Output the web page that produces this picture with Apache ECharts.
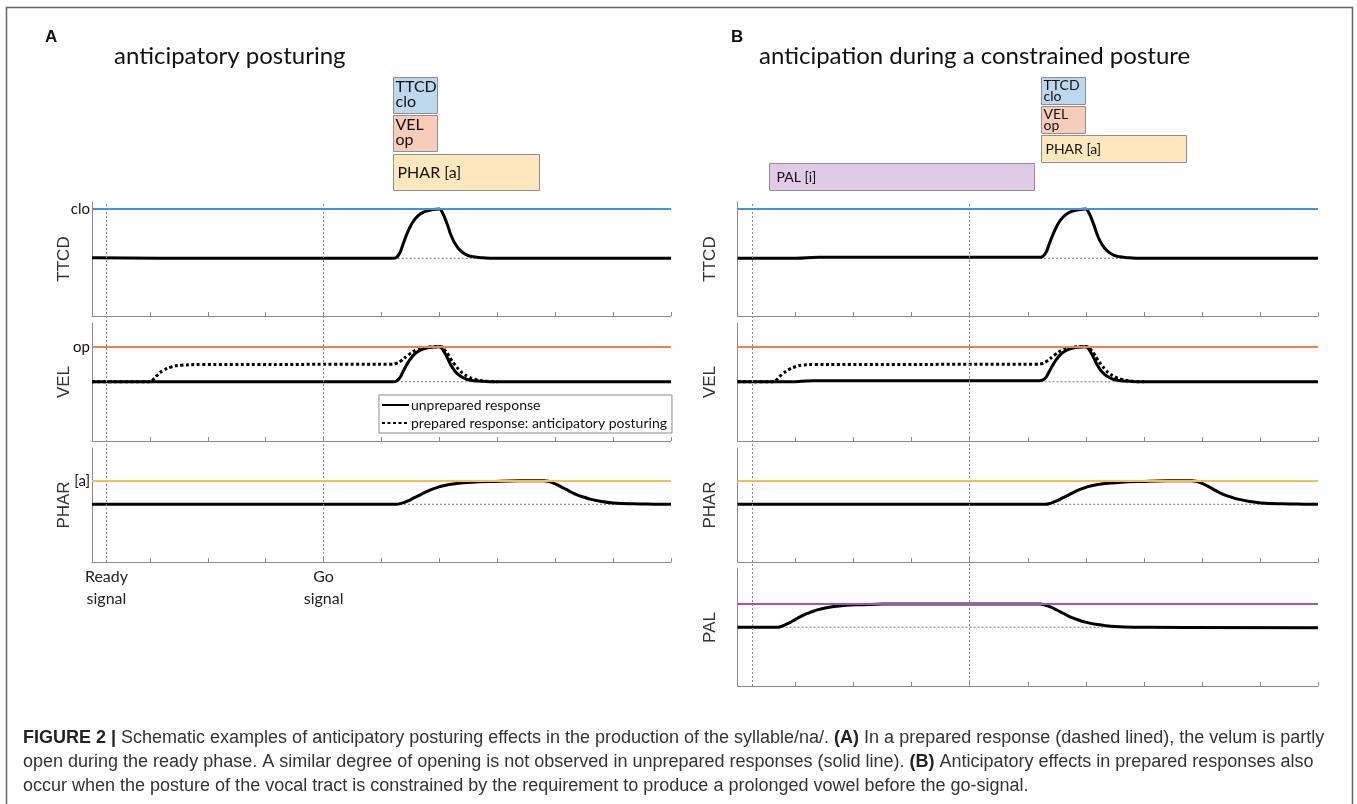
<!DOCTYPE html>
<html>
<head>
<meta charset="utf-8">
<script src="https://cdn.jsdelivr.net/npm/echarts@6/dist/echarts.min.js"></script>
<style>html,body{margin:0;padding:0;background:#fff}#c{width:1357px;height:804px}</style>
</head>
<body>
<div id="c"></div>
<script>
// ---------------- DATA ----------------
const signalX = [0.25, 4.0];
const signalLabels = ['Ready\nsignal', 'Go\nsignal'];
const targetTags = { TTCD: 'clo', VEL: 'op', PHAR: '[a]', PAL: '[i]' };
const legendNames = ['unprepared response', 'prepared response: anticipatory posturing'];

// gestural activation boxes (start/end in time units, label)
const boxLabelsA = ['TTCD\nclo', 'VEL\nop', 'PHAR [a]'];
const boxStartA  = [5.2, 5.2, 5.2];
const boxEndA    = [5.96, 5.96, 7.72];
const boxLabelsB = ['TTCD\nclo', 'VEL\nop', 'PHAR [a]', 'PAL [i]'];
const boxStartB  = [5.23, 5.23, 5.23, 0.55];
const boxEndB    = [5.99, 5.99, 7.73, 5.12];

// rest-position reference segments [start, end]
const refA = { TTCD: [5.21, 6.62], VEL: [5.2, 6.62], PHAR: [5.25, 9.3] };
const refB = { TTCD: [5.21, 6.62], VEL: [5.22, 6.62], PHAR: [5.3, 9.4], PAL: [0.69, 6.3] };

// trajectories [time, normalized position] (0 = rest, 1 = target)
const ttcdA = [[0,0.01],[1.5,0],[5.2,0],[5.26,0.02],[5.32,0.12],[5.37,0.28],[5.43,0.47],[5.5,0.65],[5.58,0.8],[5.67,0.9],[5.78,0.96],[5.9,0.99],[6.0,1.0],[6.05,0.93],[6.1,0.8],[6.15,0.64],[6.2,0.47],[6.27,0.3],[6.36,0.16],[6.47,0.07],[6.59,0.03],[6.76,0.01],[6.95,0],[10,0]];
const velSolidA = [[0,0],[5.2,0],[5.26,0.02],[5.32,0.12],[5.37,0.28],[5.43,0.47],[5.5,0.65],[5.58,0.8],[5.67,0.9],[5.78,0.96],[5.9,0.99],[6.0,1.0],[6.05,0.93],[6.1,0.8],[6.15,0.64],[6.2,0.47],[6.27,0.3],[6.36,0.16],[6.47,0.07],[6.59,0.03],[6.76,0.01],[6.95,0],[10,0]];
const velPrepA = [[0,0],[1.0,0],[1.07,0.08],[1.13,0.19],[1.23,0.32],[1.37,0.42],[1.55,0.47],[1.9,0.49],[5.15,0.5],[5.25,0.52],[5.34,0.6],[5.46,0.76],[5.59,0.9],[5.73,0.97],[5.9,1.0],[6.03,1.0],[6.08,0.93],[6.14,0.8],[6.2,0.64],[6.27,0.48],[6.34,0.34],[6.41,0.23],[6.51,0.13],[6.61,0.07],[6.82,0.01],[7.0,0]];
const pharA = [[0,0],[5.25,0],[5.35,0.05],[5.46,0.15],[5.56,0.27],[5.66,0.39],[5.76,0.52],[5.87,0.63],[5.97,0.72],[6.07,0.79],[6.27,0.87],[6.55,0.93],[6.96,0.97],[7.37,0.995],[7.81,1.0],[7.9,0.96],[7.98,0.89],[8.08,0.77],[8.19,0.63],[8.29,0.5],[8.39,0.39],[8.5,0.3],[8.6,0.22],[8.8,0.12],[9.0,0.06],[9.35,0.02],[9.7,0.005],[10,0]];

const ttcdB = [[0,0],[1.0,0],[1.4,0.02],[5.2,0.02],[5.26,0.04],[5.32,0.13],[5.37,0.29],[5.43,0.47],[5.5,0.65],[5.58,0.8],[5.67,0.9],[5.78,0.96],[5.9,0.99],[6.0,1.0],[6.05,0.93],[6.1,0.8],[6.15,0.64],[6.2,0.47],[6.27,0.3],[6.36,0.16],[6.47,0.07],[6.59,0.03],[6.76,0.01],[6.95,0],[10,0]];
const velSolidB = [[0,0],[0.9,0],[1.3,0.03],[5.2,0.03],[5.26,0.05],[5.32,0.14],[5.37,0.29],[5.43,0.47],[5.5,0.65],[5.58,0.8],[5.67,0.9],[5.78,0.96],[5.9,0.99],[6.0,1.0],[6.05,0.93],[6.1,0.8],[6.15,0.64],[6.2,0.47],[6.27,0.3],[6.36,0.16],[6.47,0.07],[6.59,0.03],[6.76,0.01],[6.95,0],[10,0]];
const velPrepB = [[0,0],[0.62,0],[0.69,0.08],[0.76,0.2],[0.9,0.36],[1.0,0.43],[1.11,0.47],[1.32,0.49],[5.15,0.5],[5.25,0.52],[5.34,0.6],[5.46,0.76],[5.59,0.9],[5.73,0.97],[5.9,1.0],[6.03,1.0],[6.08,0.93],[6.14,0.8],[6.2,0.64],[6.27,0.48],[6.34,0.34],[6.41,0.23],[6.51,0.13],[6.61,0.07],[6.82,0.01],[7.0,0]];
const pharB = [[0,0],[5.3,0],[5.4,0.05],[5.5,0.15],[5.6,0.27],[5.7,0.39],[5.8,0.52],[5.9,0.63],[6.0,0.72],[6.1,0.79],[6.3,0.87],[6.6,0.93],[7.0,0.97],[7.4,0.995],[7.83,1.0],[7.92,0.96],[8.0,0.89],[8.1,0.77],[8.2,0.63],[8.3,0.5],[8.4,0.39],[8.51,0.3],[8.62,0.22],[8.82,0.12],[9.02,0.06],[9.4,0.02],[9.75,0.005],[10,0]];
const palB = [[0,0],[0.69,0],[0.8,0.08],[0.9,0.2],[1.0,0.34],[1.11,0.49],[1.21,0.6],[1.32,0.7],[1.53,0.84],[1.82,0.93],[2.17,0.97],[2.52,0.995],[3.0,1.0],[5.22,1.0],[5.3,0.95],[5.4,0.86],[5.5,0.74],[5.61,0.6],[5.71,0.47],[5.82,0.36],[5.92,0.27],[6.03,0.2],[6.17,0.13],[6.31,0.08],[6.5,0.03],[6.67,0.01],[7.09,0],[10,-0.02]];

// ---------------- LAYOUT / STYLE ----------------
const PANEL = { A: { left: 92, width: 579 }, B: { left: 737.5, width: 580.5 } };
const ROWS = {
  TTCD: { top: 202, bottom: 316, min: -1.17, max: 1.142, color: '#4592d6' },
  VEL:  { top: 323, bottom: 441, min: -1.694, max: 1.677, color: '#ee7e5a' },
  PHAR: { top: 448, bottom: 562, min: -2.445, max: 2.386, color: '#f5be50' },
  PAL:  { top: 569, bottom: 686, min: -2.52, max: 2.5, color: '#a653b5' }
};
const BOXFILL = { TTCD: '#bdd7ee', VEL: '#f6cdb8', PHAR: '#fde7bd', PAL: '#dfcbe5' };
const FONT_C = 'Lato, "Open Sans", sans-serif';
const FONT_H = '"Liberation Sans", Arial, sans-serif';
const AXC = '#8a8a8a';

const grids = [], xAxes = [], yAxes = [], series = [];

function addGrid(left, top, width, height) {
  grids.push({ left, top, width, height, containLabel: false, outerBoundsMode: 'none' });
  return grids.length - 1;
}
function addAxes(gi, visible, yMin, yMax, yName) {
  xAxes.push({
    type: 'value', gridIndex: gi, min: 0, max: 10, interval: 1, show: visible,
    axisLine: { show: true, onZero: false, lineStyle: { color: AXC, width: 1 } },
    axisTick: { show: true, inside: true, length: 4, lineStyle: { color: AXC } },
    axisLabel: { show: false }, splitLine: { show: false }
  });
  yAxes.push({
    type: 'value', gridIndex: gi, min: yMin, max: yMax, show: visible,
    axisLine: { show: true, onZero: false, lineStyle: { color: AXC, width: 1 } },
    axisTick: { show: false }, axisLabel: { show: false }, splitLine: { show: false },
    name: yName || '', nameLocation: 'middle', nameGap: 19,
    nameTextStyle: { fontFamily: FONT_H, fontSize: 17, color: '#333' }
  });
}

const SMOOTH = 0.45;
function addPlot(panel, key, solid, prep, ref) {
  const r = ROWS[key];
  const p = PANEL[panel];
  const gi = addGrid(p.left, r.top, p.width, r.bottom - r.top);
  addAxes(gi, true, r.min, r.max, key);
  series.push({
    type: 'line', xAxisIndex: gi, yAxisIndex: gi, data: [[ref[0], 0], [ref[1], 0]],
    symbol: 'none', silent: true, z: 1,
    lineStyle: { color: '#777', width: 1, type: [2, 2] }
  });
  series.push({
    type: 'line', name: legendNames[0], xAxisIndex: gi, yAxisIndex: gi, data: solid,
    symbol: 'none', showSymbol: false, smooth: SMOOTH, silent: true, z: 3,
    lineStyle: { color: '#000', width: 3, join: 'round' }, itemStyle: { color: '#000' }
  });
  if (prep) {
    series.push({
      type: 'line', name: legendNames[1], xAxisIndex: gi, yAxisIndex: gi, data: prep,
      symbol: 'none', showSymbol: false, smooth: SMOOTH, silent: true, z: 4,
      lineStyle: { color: '#000', width: 3, type: [3, 2.5], cap: 'butt' }, itemStyle: { color: '#000' }
    });
  }
  series.push({
    type: 'line', xAxisIndex: gi, yAxisIndex: gi, data: [], silent: true, z: 5,
    markLine: {
      symbol: 'none', silent: true, animation: false,
      data: [{ yAxis: 1 }],
      lineStyle: { color: r.color, width: 2, type: 'solid' },
      label: {
        show: panel === 'A', position: 'start', distance: 2,
        formatter: targetTags[key], fontFamily: FONT_C, fontSize: 15, color: '#111'
      }
    }
  });
}

function addBoxes(panel, labels, starts, ends, rows, fontSize, lineH) {
  const p = PANEL[panel];
  const gi = addGrid(p.left, 77, p.width, 115);
  xAxes.push({ type: 'value', gridIndex: gi, min: 0, max: 10, show: false });
  yAxes.push({ type: 'value', gridIndex: gi, min: 0, max: rows, inverse: true, show: false });
  series.push({
    type: 'custom', xAxisIndex: gi, yAxisIndex: gi, silent: true, z: 2,
    data: labels.map((l, i) => [starts[i], ends[i], i]),
    renderItem: function (params, api) {
      const i = params.dataIndex;
      const s = api.coord([api.value(0), api.value(2)]);
      const e = api.coord([api.value(1), api.value(2) + 1]);
      const key = labels[i].split(/[\s\n]/)[0];
      const multi = labels[i].indexOf('\n') >= 0;
      const x0 = Math.round(s[0]) + 0.5, y0 = Math.round(s[1]) + 0.5;
      const w = Math.round(e[0] - s[0]), h = Math.round(e[1] - s[1]) - 2;
      return {
        type: 'group',
        children: [
          { type: 'rect', shape: { x: x0, y: y0, width: w, height: h },
            style: { fill: BOXFILL[key], stroke: '#8f8f8f', lineWidth: 1 } },
          { type: 'text',
            x: x0 + (multi ? 2 : (key === 'PAL' ? 7 : 4)),
            y: multi ? y0 + 2 : y0 + h / 2,
            style: { text: labels[i], fill: '#111', fontFamily: FONT_C, fontSize: fontSize,
                     lineHeight: lineH, verticalAlign: multi ? 'top' : 'middle', align: 'left' } }
        ]
      };
    }
  });
}

function addSignals(panel, top, bottom, showLabels) {
  const p = PANEL[panel];
  const gi = addGrid(p.left, top, p.width, bottom - top);
  xAxes.push({ type: 'value', gridIndex: gi, min: 0, max: 10, show: false });
  yAxes.push({ type: 'value', gridIndex: gi, min: 0, max: 1, show: false });
  series.push({
    type: 'line', xAxisIndex: gi, yAxisIndex: gi, data: [], silent: true, z: 0,
    markLine: {
      symbol: 'none', silent: true, animation: false,
      lineStyle: { color: '#8a8a8a', width: 1, type: [2, 2] },
      data: signalX.map((x, i) => ({
        xAxis: x,
        label: {
          show: showLabels, position: 'start', distance: 4, formatter: signalLabels[i],
          fontFamily: FONT_C, fontSize: 16, lineHeight: 22, color: '#222', align: 'center'
        }
      }))
    }
  });
}

// Panel A
addBoxes('A', boxLabelsA, boxStartA, boxEndA, 3, 16, 15);
addSignals('A', ROWS.TTCD.top, ROWS.PHAR.bottom, true);
addPlot('A', 'TTCD', ttcdA, null, refA.TTCD);
addPlot('A', 'VEL', velSolidA, velPrepA, refA.VEL);
addPlot('A', 'PHAR', pharA, null, refA.PHAR);
// Panel B
addBoxes('B', boxLabelsB, boxStartB, boxEndB, 4, 14, 11);
addSignals('B', ROWS.TTCD.top, ROWS.PAL.bottom, false);
addPlot('B', 'TTCD', ttcdB, null, refB.TTCD);
addPlot('B', 'VEL', velSolidB, velPrepB, refB.VEL);
addPlot('B', 'PHAR', pharB, null, refB.PHAR);
addPlot('B', 'PAL', palB, null, refB.PAL);

const caption =
  '{b|FIGURE 2 |} Schematic examples of anticipatory posturing effects in the production of the syllable/na/. {b|(A)} In a prepared response (dashed lined), the velum is partly\n' +
  'open during the ready phase. A similar degree of opening is not observed in unprepared responses (solid line). {b|(B)} Anticipatory effects in prepared responses also\n' +
  'occur when the posture of the vocal tract is constrained by the requirement to produce a prolonged vowel before the go-signal.';

const option = {
  animation: false,
  backgroundColor: '#fff',
  grid: grids, xAxis: xAxes, yAxis: yAxes, series: series,
  legend: {
    data: legendNames, orient: 'vertical', left: 379, top: 395,
    padding: [3, 5, 3, 2], itemGap: 4, itemWidth: 27, itemHeight: 14,
    borderColor: '#8a8a8a', borderWidth: 1, backgroundColor: '#fff',
    itemStyle: { opacity: 0, borderWidth: 0 },
    selectedMode: false, textStyle: { fontFamily: FONT_C, fontSize: 14, color: '#111', padding: [0, 0, 0, -3] }
  },
  graphic: [
    { type: 'rect', shape: { x: 6.5, y: 7.5, width: 1346, height: 810 }, style: { fill: 'none', stroke: '#666', lineWidth: 1.5 }, silent: true },
    { type: 'text', x: 45, y: 37, style: { text: 'A', fontFamily: FONT_H, fontWeight: 'bold', fontSize: 17, fill: '#111', verticalAlign: 'middle' } },
    { type: 'text', x: 731, y: 37, style: { text: 'B', fontFamily: FONT_H, fontWeight: 'bold', fontSize: 17, fill: '#111', verticalAlign: 'middle' } },
    { type: 'text', x: 114, y: 56, style: { text: 'anticipatory posturing', fontFamily: FONT_C, fontSize: 24, fill: '#111', verticalAlign: 'middle' } },
    { type: 'text', x: 759, y: 56, style: { text: 'anticipation during a constrained posture', fontFamily: FONT_C, fontSize: 24, fill: '#111', verticalAlign: 'middle' } },
    { type: 'text', x: 23, y: 726, style: {
        text: caption, fontFamily: FONT_H, fontSize: 18, lineHeight: 24, fill: '#333', verticalAlign: 'top',
        rich: { b: { fontFamily: FONT_H, fontWeight: 'bold', fontSize: 18, lineHeight: 24, fill: '#222' } }
      } }
  ]
};

const chart = echarts.init(document.getElementById('c'), null, { renderer: 'canvas' });
chart.setOption(option);
</script>
</body>
</html>
